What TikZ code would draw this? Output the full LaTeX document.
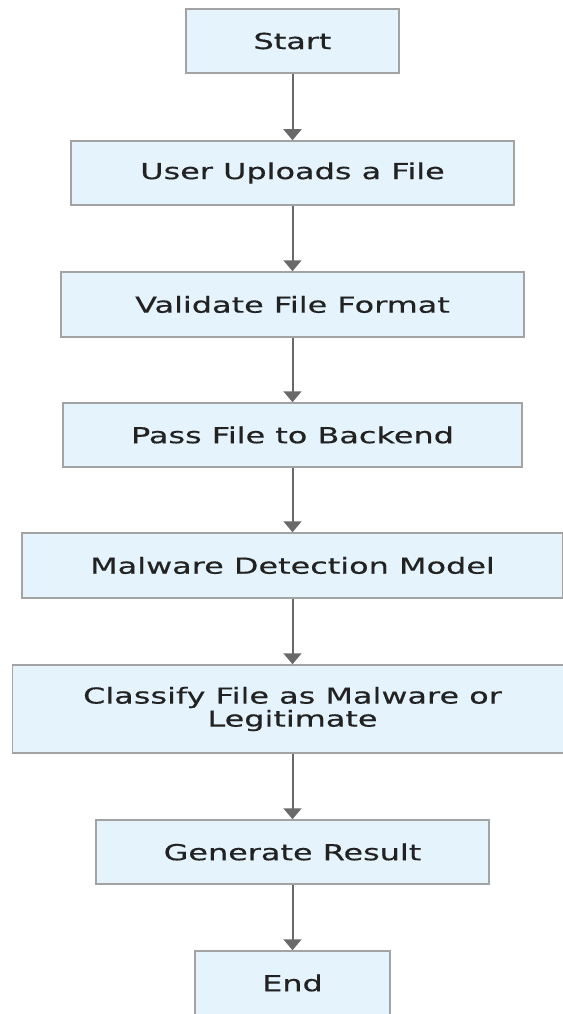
\documentclass[tikz,border=0pt]{standalone}
\usepackage{fontspec}
\setmainfont{DejaVu Sans}[FakeStretch=1.45,FakeBold=0.4]
\usetikzlibrary{arrows.meta}
\definecolor{boxfill}{HTML}{E4F3FC}
\definecolor{boxline}{HTML}{A3A3A3}
\definecolor{flowline}{HTML}{696969}
\definecolor{textcol}{HTML}{222222}
\begin{document}
\begin{tikzpicture}[x=1pt,y=-1pt,>={Triangle[width=18pt,length=11pt]},
  box/.style={draw=boxline,line width=1.5pt,fill=boxfill,minimum height=64pt,
    inner sep=0pt,align=center,text=textcol,font=\fontsize{22}{23}\selectfont},
  flow/.style={->,draw=flowline,line width=2pt}]
\useasboundingbox (0,0) rectangle (562,1014);
\node[box,minimum width=213pt] (start) at (292.5,41) {Start};
\node[box,minimum width=443pt] (upload) at (292.5,173) {User Uploads a File};
\node[box,minimum width=463pt,minimum height=65pt] (validate) at (292.5,304.5) {Validate File Format};
\node[box,minimum width=459pt] (pass) at (292.5,435) {Pass File to Backend};
\node[box,minimum width=541pt,minimum height=65pt] (model) at (292.5,565.5) {Malware Detection Model};
\node[box,minimum width=560pt,minimum height=88pt] (classify) at (292.5,709) {Classify File as Malware or\\Legitimate};
\node[box,minimum width=393pt] (result) at (292.5,852) {Generate Result};
\node[box,minimum width=195pt] (end) at (292.5,983) {End};

\draw[flow] (start)--(upload);
\draw[flow] (upload)--(validate);
\draw[flow] (validate)--(pass);
\draw[flow] (pass)--(model);
\draw[flow] (model)--(classify);
\draw[flow] (classify)--(result);
\draw[flow] (result)--(end);

\end{tikzpicture}
\end{document}
